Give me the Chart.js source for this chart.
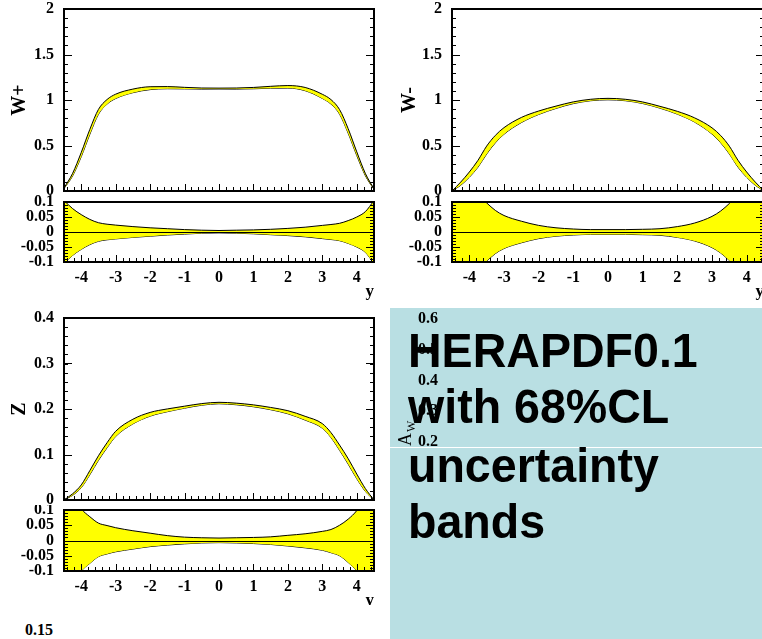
<!DOCTYPE html>
<html>
<head>
<meta charset="utf-8">
<script src="https://cdn.jsdelivr.net/npm/chart.js@4.4.1/dist/chart.umd.min.js"></script>
<style>
  html, body { margin: 0; padding: 0; background: #fff; }
  body { width: 762px; height: 639px; position: relative; overflow: hidden; }
  canvas, .box, .txt, .clip { position: absolute; }
  .box { left: 390px; top: 308px; width: 372px; height: 331px; background: #b9dfe3; }
  .gap { position: absolute; left: 390px; top: 447px; width: 372px; height: 1px; background: #fff; }
  .clip { left: 0; top: 505px; width: 380px; height: 100px; overflow: hidden; }
  .big { position: absolute; left: 408px; font: bold 49px 'Liberation Sans', Arial, sans-serif;
         line-height: 60px; color: #000; transform: scaleX(0.95); transform-origin: 0 0; white-space: nowrap; }
  .lbl { position: absolute; font: bold 16px 'Liberation Serif', serif; color: #000; }
</style>
</head>
<body>
<canvas id="wp-main" width="380" height="200" style="left:0;top:0"></canvas>
<canvas id="wp-ratio" width="380" height="111" style="left:0;top:195px"></canvas>
<canvas id="wm-main" width="380" height="200" style="left:390px;top:0"></canvas>
<canvas id="wm-ratio" width="380" height="111" style="left:390px;top:195px"></canvas>
<canvas id="z-main" width="380" height="200" style="left:0;top:305px"></canvas>
<div class="clip"><canvas id="z-ratio" width="380" height="110" style="left:0;top:0"></canvas></div>
<div class="box"></div>
<canvas id="aw-axis" width="372" height="140" style="left:390px;top:308px"></canvas>
<div class="gap"></div>
<div class="big" style="top:320px">HERAPDF0.1</div>
<div class="big" style="top:376px">with 68%CL</div>
<div class="big" style="top:435px">uncertainty</div>
<div class="big" style="top:491px">bands</div>
<div class="lbl" style="left:25px;top:621px">0.15</div>
<script>
// rapidity points
const rapidity = [-4.5, -4.25, -4, -3.75, -3.5, -3.25, -3, -2.5, -2, -1.5, -1, -0.5, 0,
                  0.5, 1, 1.5, 2, 2.5, 3, 3.25, 3.5, 3.75, 4, 4.25, 4.5];

// central values
const wPlus  = [0.03, 0.18, 0.40, 0.65, 0.87, 0.98, 1.04, 1.10, 1.13, 1.135, 1.13, 1.125, 1.125,
                1.125, 1.13, 1.14, 1.145, 1.12, 1.04, 0.98, 0.87, 0.66, 0.41, 0.18, 0.02];
const wMinus = [0.0, 0.08, 0.18, 0.30, 0.45, 0.57, 0.66, 0.78, 0.86, 0.92, 0.97, 1.0, 1.01,
                1.0, 0.97, 0.92, 0.86, 0.78, 0.66, 0.57, 0.45, 0.30, 0.18, 0.08, 0.0];
const zBoson = [0.0, 0.012, 0.03, 0.06, 0.092, 0.12, 0.145, 0.172, 0.188, 0.197, 0.204, 0.21, 0.213,
                0.211, 0.207, 0.201, 0.193, 0.18, 0.163, 0.143, 0.115, 0.085, 0.052, 0.022, 0.0];

// relative uncertainty (upper / lower)
const wPlusUp = [0.105, 0.078, 0.058, 0.042, 0.031, 0.026, 0.023, 0.018, 0.014, 0.011, 0.008, 0.006, 0.005,
                 0.006, 0.007, 0.009, 0.012, 0.016, 0.022, 0.025, 0.029, 0.038, 0.05, 0.068, 0.105];
const wPlusDn = [-0.105, -0.078, -0.058, -0.042, -0.031, -0.026, -0.023, -0.018, -0.014, -0.01, -0.007, -0.004, -0.003,
                 -0.004, -0.006, -0.009, -0.012, -0.016, -0.022, -0.025, -0.029, -0.038, -0.05, -0.068, -0.105];
const wMinusUp = [0.3, 0.22, 0.16, 0.125, 0.097, 0.072, 0.055, 0.036, 0.022, 0.014, 0.01, 0.008, 0.008,
                  0.008, 0.009, 0.011, 0.018, 0.03, 0.052, 0.07, 0.095, 0.125, 0.16, 0.22, 0.3];
const wMinusDn = [-0.3, -0.22, -0.16, -0.125, -0.097, -0.072, -0.055, -0.036, -0.022, -0.014, -0.01, -0.008, -0.008,
                  -0.008, -0.009, -0.011, -0.018, -0.03, -0.052, -0.07, -0.095, -0.125, -0.16, -0.22, -0.3];
const zUp = [0.2, 0.14, 0.103, 0.078, 0.057, 0.049, 0.042, 0.032, 0.024, 0.016, 0.011, 0.009, 0.008,
             0.009, 0.01, 0.012, 0.017, 0.022, 0.03, 0.036, 0.05, 0.07, 0.098, 0.14, 0.2];
const zDn = [-0.2, -0.14, -0.1, -0.075, -0.053, -0.044, -0.037, -0.028, -0.02, -0.015, -0.011, -0.008, -0.007,
             -0.008, -0.01, -0.013, -0.018, -0.024, -0.032, -0.04, -0.05, -0.072, -0.1, -0.14, -0.2];

// tick labels
const rapidityTicks = [-4, -3, -2, -1, 0, 1, 2, 3, 4];
const wTicks = [0, 0.5, 1, 1.5, 2];
const zTicks = [0, 0.1, 0.2, 0.3, 0.4];
const ratioTicks = [-0.1, -0.05, 0, 0.05, 0.1];
const awTicks = [0.2, 0.3, 0.4, 0.5, 0.6];

Chart.defaults.font.family = "'Liberation Serif', 'Times New Roman', serif";
Chart.defaults.font.size = 16;
Chart.defaults.font.weight = 'bold';
Chart.defaults.color = '#000';

const YELLOW = '#ffff00';
const fmt = v => String(+(+v).toFixed(3));

// ROOT-like frame with ticks pointing inside
const rootFrame = {
    id: 'rootFrame',
    afterDatasetsDraw(chart, args, opts) {
        if (!opts || !opts.frame) return;
        const {ctx, chartArea: a, scales} = chart;
        const x = scales.x, y = scales.y;
        ctx.save();
        ctx.strokeStyle = '#000';
        ctx.lineWidth = 1;
        if (opts.zeroLine) {
            const y0 = Math.round(y.getPixelForValue(0)) + 0.5;
            ctx.beginPath(); ctx.moveTo(a.left, y0); ctx.lineTo(a.right, y0); ctx.stroke();
        }
        const yMarks = (step, len) => {
            const n0 = Math.ceil(y.min / step - 1e-6), n1 = Math.floor(y.max / step + 1e-6);
            ctx.beginPath();
            for (let i = n0; i <= n1; i++) {
                const py = Math.round(y.getPixelForValue(i * step)) + 0.5;
                ctx.moveTo(a.left, py); ctx.lineTo(a.left + len, py);
                ctx.moveTo(a.right, py); ctx.lineTo(a.right - len, py);
            }
            ctx.stroke();
        };
        const xMarks = (step, len) => {
            const n0 = Math.ceil(x.min / step - 1e-6), n1 = Math.floor(x.max / step + 1e-6);
            ctx.beginPath();
            for (let i = n0; i <= n1; i++) {
                const px = Math.round(x.getPixelForValue(i * step)) + 0.5;
                ctx.moveTo(px, a.bottom); ctx.lineTo(px, a.bottom - len);
            }
            ctx.stroke();
        };
        yMarks(opts.yMinor, 4);
        yMarks(opts.yMajor, 8);
        xMarks(0.2, 4);
        xMarks(1, 7);
        ctx.lineWidth = 2;
        ctx.strokeRect(a.left, a.top, a.right - a.left, a.bottom - a.top);
        ctx.restore();
    }
};

function points(values) {
    return rapidity.map((x, i) => ({ x: x, y: values[i] }));
}

function lineSet(values, fill) {
    return {
        data: points(values),
        borderColor: '#000',
        borderWidth: 1,
        backgroundColor: YELLOW,
        fill: fill,
        pointRadius: 0,
        cubicInterpolationMode: 'monotone',
        clip: 0
    };
}

function yScale(min, max, ticks, width, title) {
    return {
        type: 'linear', min: min, max: max,
        grid: { display: false, drawTicks: false },
        border: { display: false },
        afterBuildTicks: s => { s.ticks = ticks.map(v => ({ value: v })); },
        afterFit: s => { s.width = width; s.paddingTop = 0; s.paddingBottom = 0; },
        ticks: { padding: 10, callback: fmt, autoSkip: false },
        title: title ? {
            display: true, text: title,
            font: { size: 20, weight: 'bold' },
            padding: { top: 8, bottom: 0 }
        } : { display: false }
    };
}

function xScale(showAxis) {
    return {
        type: 'linear', min: -4.5, max: 4.5,
        display: showAxis,
        grid: { display: false, drawTicks: false },
        border: { display: false },
        afterBuildTicks: s => { s.ticks = rapidityTicks.map(v => ({ value: v })); },
        afterFit: s => { if (showAxis) s.height = 44; s.paddingLeft = 0; s.paddingRight = 0; },
        ticks: { padding: 6, callback: fmt, maxRotation: 0, autoSkip: false },
        title: {
            display: showAxis, text: 'y', align: 'end',
            font: { size: 17, weight: 'bold' },
            padding: { top: 0, bottom: 4 }
        }
    };
}

function createMainChart(id, central, up, dn, yMax, ticks, yMajor, yMinor, title, axisWidth, pad) {
    const upper = central.map((c, i) => c * (1 + up[i]));
    const lower = central.map((c, i) => c * (1 + dn[i]));
    return new Chart(document.getElementById(id), {
        type: 'line',
        data: { datasets: [lineSet(upper, '+1'), lineSet(lower, false), lineSet(central, false)] },
        options: {
            responsive: false, animation: false, devicePixelRatio: 1,
            layout: { padding: pad },
            plugins: { legend: { display: false }, tooltip: { enabled: false },
                       rootFrame: { frame: true, yMajor: yMajor, yMinor: yMinor } },
            scales: { x: xScale(false), y: yScale(0, yMax, ticks, axisWidth, title) }
        },
        plugins: [rootFrame]
    });
}

function createRatioChart(id, up, dn, axisWidth, pad) {
    return new Chart(document.getElementById(id), {
        type: 'line',
        data: { datasets: [lineSet(up, '+1'), lineSet(dn, false)] },
        options: {
            responsive: false, animation: false, devicePixelRatio: 1,
            layout: { padding: pad },
            plugins: { legend: { display: false }, tooltip: { enabled: false },
                       rootFrame: { frame: true, zeroLine: true, yMajor: 0.05, yMinor: 0.01 } },
            scales: { x: xScale(true), y: yScale(-0.1, 0.1, ratioTicks, axisWidth, null) }
        },
        plugins: [rootFrame]
    });
}

// axis labels of the A_W panel that peek out under the text box
const awTitle = {
    id: 'awTitle',
    afterDraw(chart) {
        const ctx = chart.ctx;
        ctx.save();
        ctx.translate(21, 138);
        ctx.rotate(-Math.PI / 2);
        ctx.fillStyle = '#000';
        ctx.textBaseline = 'alphabetic';
        ctx.font = "18px 'Liberation Serif', serif";
        ctx.fillText('A', 0, 0);
        const w = ctx.measureText('A').width;
        ctx.font = "12px 'Liberation Serif', serif";
        ctx.fillText('W', w + 1, 4);
        ctx.restore();
    }
};

function createAwAxis() {
    const y = yScale(0.18, 0.62, awTicks, 56, null);
    y.ticks.padding = 8;
    return new Chart(document.getElementById('aw-axis'), {
        type: 'line',
        data: { datasets: [] },
        options: {
            responsive: false, animation: false, devicePixelRatio: 1,
            layout: { padding: { top: 5, right: 0, bottom: 0, left: 0 } },
            plugins: { legend: { display: false }, tooltip: { enabled: false } },
            scales: { x: xScale(false), y: y }
        },
        plugins: [awTitle]
    });
}

createMainChart('wp-main', wPlus, wPlusUp, wPlusDn, 2, wTicks, 0.5, 0.1, 'W+', 64,
                { top: 9, right: 6, bottom: 9, left: 0 });
createRatioChart('wp-ratio', wPlusUp, wPlusDn, 64, { top: 7, right: 6, bottom: 0, left: 0 });
createMainChart('wm-main', wMinus, wMinusUp, wMinusDn, 2, wTicks, 0.5, 0.1, 'W-', 62,
                { top: 9, right: 6, bottom: 9, left: 0 });
createRatioChart('wm-ratio', wMinusUp, wMinusDn, 62, { top: 7, right: 6, bottom: 0, left: 0 });
createMainChart('z-main', zBoson, zUp, zDn, 0.4, zTicks, 0.1, 0.02, 'Z', 64,
                { top: 13, right: 6, bottom: 5, left: 0 });
createRatioChart('z-ratio', zUp, zDn, 64, { top: 5, right: 6, bottom: 0, left: 0 });
createAwAxis();
</script>
</body>
</html>
